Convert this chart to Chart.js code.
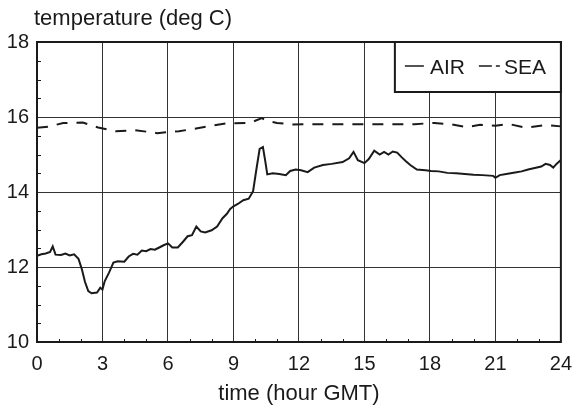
<!DOCTYPE html>
<html>
<head>
<meta charset="utf-8">
<script src="https://cdn.jsdelivr.net/npm/chart.js@4.4.1/dist/chart.umd.min.js"></script>
<style>
  html, body { margin: 0; padding: 0; background: #fff; }
  #wrap { width: 582px; height: 411px; }
</style>
</head>
<body>
<div id="wrap"><canvas id="tempChart" width="582" height="411"></canvas></div>
<script>
// hours (GMT) and temperatures
const airHours = [0, 0.2, 0.4, 0.6, 0.72, 0.85, 1.1, 1.3, 1.5, 1.7, 1.9, 2.05, 2.2, 2.35, 2.5, 2.75, 2.9, 3.0, 3.1, 3.3,
    3.5, 3.7, 4.0, 4.2, 4.4, 4.6, 4.8, 5.0, 5.2, 5.4, 5.6, 5.8, 6.0, 6.2, 6.45, 6.7, 6.9, 7.1, 7.3, 7.5,
    7.7, 8.0, 8.25, 8.5, 8.7, 8.85, 9.0, 9.2, 9.45, 9.7, 9.9, 10.05, 10.2, 10.35, 10.45, 10.55, 10.8, 11.1, 11.4, 11.6,
    11.85, 12.1, 12.4, 12.7, 13.1, 13.5, 14.0, 14.3, 14.5, 14.7, 15.0, 15.2, 15.45, 15.7, 15.9, 16.1, 16.3, 16.5, 16.7, 16.9,
    17.1, 17.4, 17.8, 18.05, 18.4, 18.8, 19.2, 19.6, 20.0, 20.4, 20.9, 21.0, 21.2, 21.5, 21.9, 22.2, 22.5, 22.8, 23.1, 23.3,
    23.5, 23.65, 23.8, 24.0];
const airTemps = [12.30, 12.34, 12.36, 12.40, 12.55, 12.33, 12.32, 12.36, 12.31, 12.34, 12.22, 11.95, 11.60, 11.36, 11.30, 11.32, 11.45, 11.40, 11.62, 11.85,
    12.12, 12.15, 12.14, 12.28, 12.35, 12.33, 12.44, 12.42, 12.48, 12.46, 12.52, 12.58, 12.63, 12.52, 12.52, 12.68, 12.82, 12.85, 13.08, 12.95,
    12.92, 12.98, 13.08, 13.30, 13.42, 13.55, 13.62, 13.68, 13.78, 13.82, 14.02, 14.60, 15.15, 15.20, 14.85, 14.47, 14.50, 14.48, 14.45, 14.56,
    14.60, 14.58, 14.53, 14.65, 14.72, 14.75, 14.80, 14.90, 15.07, 14.85, 14.77, 14.88, 15.10, 15.00, 15.07, 15.00, 15.08, 15.05, 14.93, 14.82,
    14.72, 14.60, 14.58, 14.56, 14.55, 14.51, 14.50, 14.48, 14.46, 14.45, 14.43, 14.38, 14.45, 14.48, 14.52, 14.55, 14.60, 14.64, 14.68, 14.75,
    14.72, 14.65, 14.75, 14.85];

const seaHours = [0, 0.5, 1.2, 2.1, 2.8, 3.6, 4.5, 5.5, 6.5, 7.35, 8.1, 8.7, 9.75, 10.3, 10.5, 11.0, 11.7, 12.5, 14.0, 15.5,
    17.3, 18.2, 19.0, 19.7, 20.3, 21.0, 21.65, 22.4, 23.3, 24.0];
const seaTemps = [15.71, 15.74, 15.84, 15.85, 15.72, 15.62, 15.65, 15.57, 15.62, 15.70, 15.78, 15.83, 15.84, 15.97, 15.90, 15.84, 15.80, 15.81, 15.81, 15.81,
    15.81, 15.84, 15.80, 15.73, 15.79, 15.77, 15.81, 15.71, 15.79, 15.75];

const seriesNames = ['AIR', 'SEA'];
const xTitle = 'time (hour GMT)';
const yTitle = 'temperature (deg C)';

const FONT = "'Liberation Sans', Arial, Helvetica, sans-serif";
const INK = '#1a1a1a';

// y title, frame, minor ticks and boxed legend
const decorations = {
    id: 'decorations',
    afterDatasetsDraw(chart) {
        const { ctx, chartArea: a, scales: { x, y } } = chart;
        ctx.save();

        // minor ticks inside the frame
        ctx.strokeStyle = INK;
        ctx.lineWidth = 1;
        for (let v = 10.5; v < 18; v += 0.5) {
            if (v % 2 === 0) continue;
            const py = Math.round(y.getPixelForValue(v)) + 0.5;
            ctx.beginPath();
            ctx.moveTo(a.left, py);
            ctx.lineTo(a.left + 4, py);
            ctx.stroke();
        }
        for (let h = 1; h < 24; h++) {
            if (h % 3 === 0) continue;
            const px = Math.round(x.getPixelForValue(h)) + 0.5;
            ctx.beginPath();
            ctx.moveTo(px, a.bottom);
            ctx.lineTo(px, a.bottom - 3);
            ctx.stroke();
        }

        // frame
        ctx.lineWidth = 2;
        ctx.strokeStyle = INK;
        ctx.strokeRect(a.left, a.top, a.right - a.left, a.bottom - a.top);

        // legend box in the top-right corner
        const bw = 166, bh = 50;
        const bx = a.right - bw, by = a.top;
        ctx.fillStyle = '#fff';
        ctx.fillRect(bx, by, bw, bh);
        ctx.strokeRect(bx, by, bw, bh);

        const ly = by + 25;
        ctx.font = '21px ' + FONT;
        ctx.textBaseline = 'middle';
        ctx.fillStyle = INK;
        ctx.lineWidth = 1.5;

        ctx.beginPath();
        ctx.moveTo(bx + 10, ly - 1);
        ctx.lineTo(bx + 29, ly - 1);
        ctx.stroke();
        ctx.textAlign = 'left';
        ctx.fillText(chart.data.datasets[0].label, bx + 35, ly + 1);

        ctx.setLineDash([13, 4, 4, 4]);
        ctx.beginPath();
        ctx.moveTo(bx + 84, ly - 1);
        ctx.lineTo(bx + 108, ly - 1);
        ctx.stroke();
        ctx.setLineDash([]);
        ctx.fillText(chart.data.datasets[1].label, bx + 109, ly + 1);

        // y axis title above the plot
        ctx.font = '22px ' + FONT;
        ctx.textAlign = 'left';
        ctx.textBaseline = 'middle';
        ctx.fillText(yTitle, a.left - 3, 19);

        ctx.restore();
    }
};

const ctx = document.getElementById('tempChart').getContext('2d');
new Chart(ctx, {
    type: 'line',
    data: {
        datasets: [{
            label: seriesNames[0],
            data: airHours.map((h, i) => ({ x: h, y: airTemps[i] })),
            borderColor: INK,
            borderWidth: 2,
            pointRadius: 0,
            tension: 0
        }, {
            label: seriesNames[1],
            data: seaHours.map((h, i) => ({ x: h, y: seaTemps[i] })),
            borderColor: INK,
            borderWidth: 2,
            borderDash: [11, 9],
            pointRadius: 0,
            tension: 0
        }]
    },
    plugins: [decorations],
    options: {
        responsive: false,
        animation: false,
        layout: { padding: { top: 42, right: 13, left: 0, bottom: 0 } },
        plugins: {
            legend: { display: false },
            tooltip: { enabled: false }
        },
        scales: {
            x: {
                type: 'linear',
                min: 0,
                max: 24,
                ticks: { stepSize: 3, color: INK, padding: 10, font: { family: FONT, size: 20 } },
                grid: { color: '#333', lineWidth: 1, drawTicks: false },
                border: { color: INK, width: 2 },
                title: { display: true, text: xTitle, color: INK, padding: { top: 4, bottom: 4 }, font: { family: FONT, size: 22 } },
                afterFit(scale) { scale.height = 69; }
            },
            y: {
                min: 10,
                max: 18,
                ticks: { stepSize: 2, color: INK, padding: 8, font: { family: FONT, size: 20 } },
                grid: { color: '#333', lineWidth: 1, drawTicks: false },
                border: { color: INK, width: 2 },
                afterFit(scale) { scale.width = 37; }
            }
        }
    }
});
</script>
</body>
</html>
